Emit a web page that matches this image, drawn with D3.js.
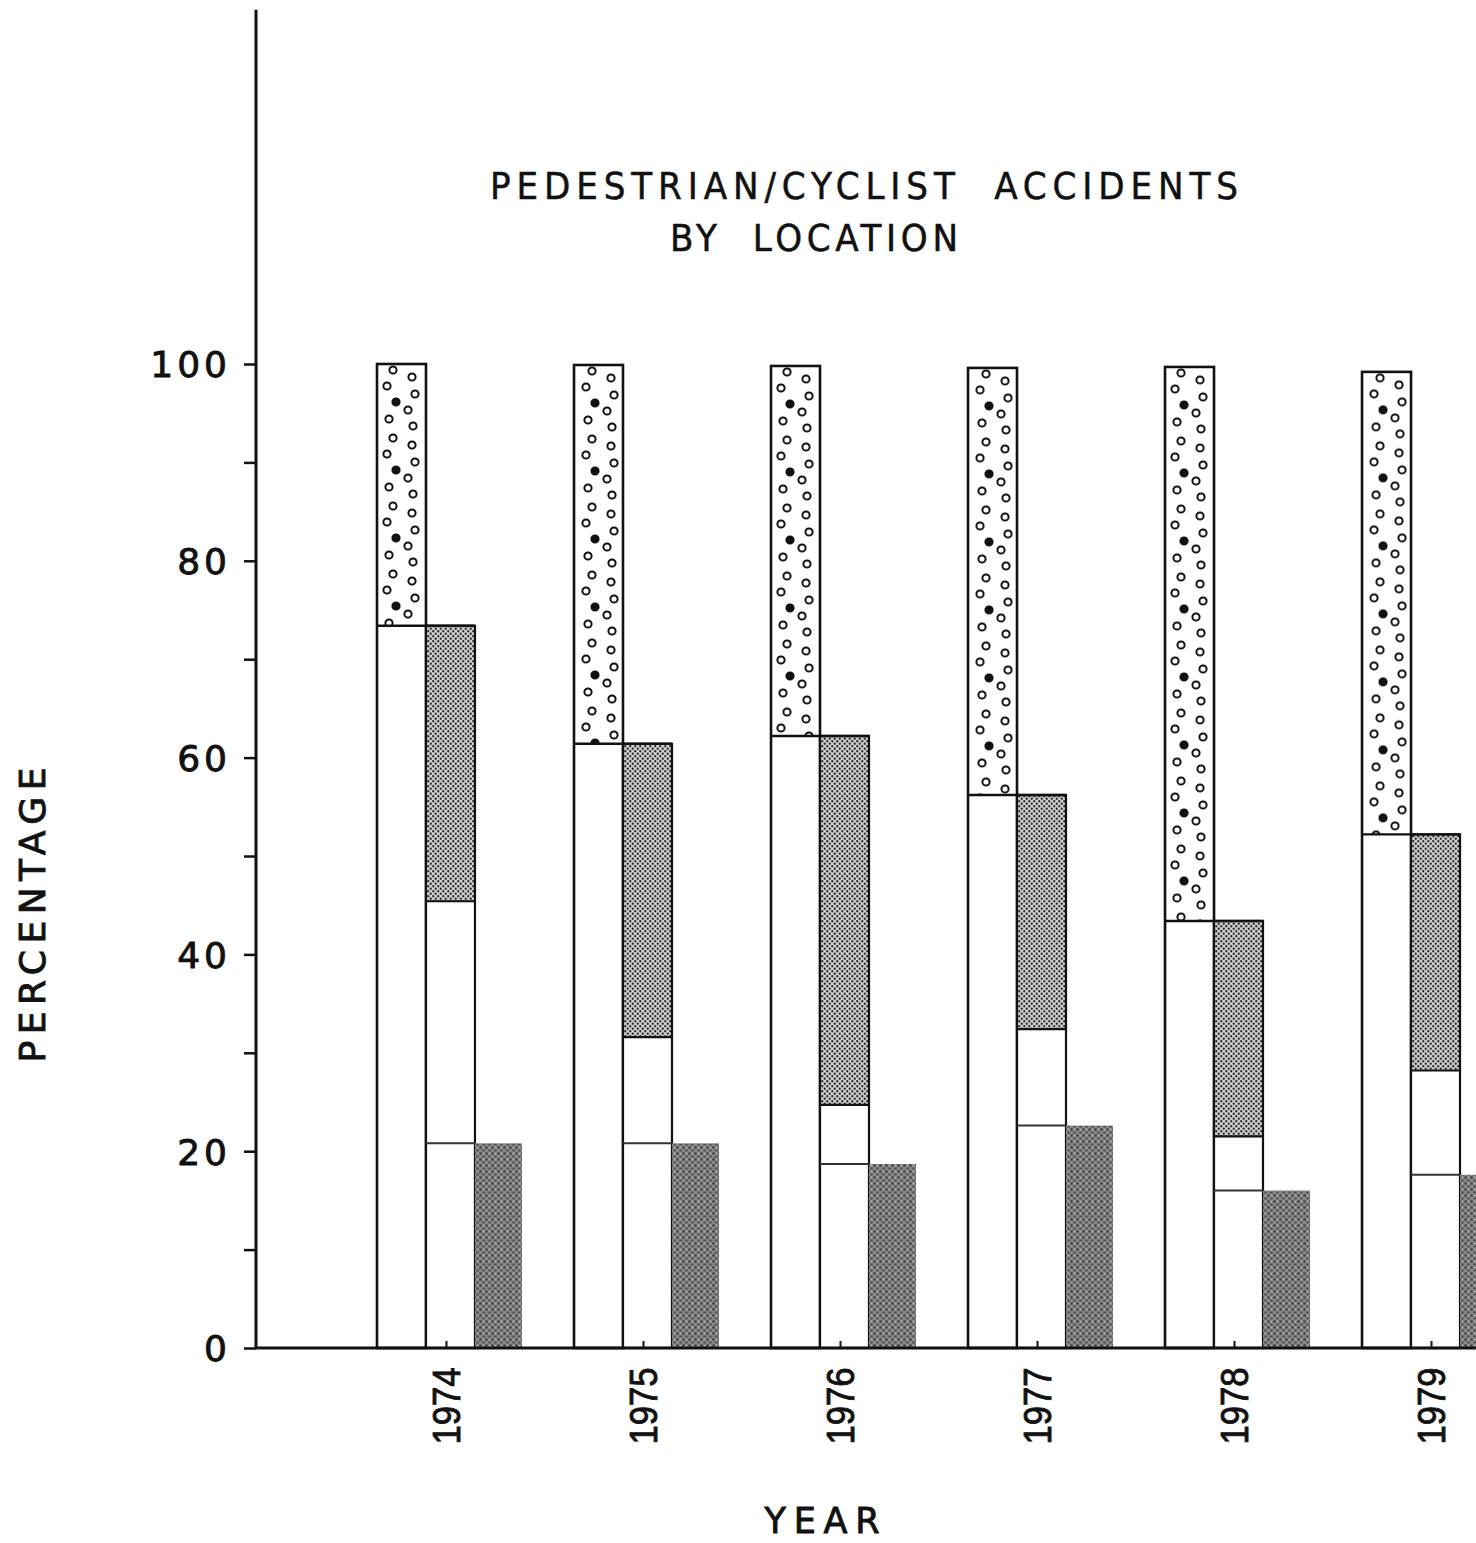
<!DOCTYPE html>
<html><head><meta charset="utf-8">
<title>Pedestrian/Cyclist Accidents by Location</title>
<script src="https://cdn.jsdelivr.net/npm/d3@7"></script>
<style>
  html,body{margin:0;background:#fff}
  svg{display:block}
  text{fill:#111}
  .thick{stroke:#111;stroke-width:0.9px}
</style></head><body>
<svg id="chart" width="1476" height="1543"></svg>
<script>
// values (percent)
const years   = ['1974','1975','1976','1977','1978','1979'];
const barTop  = [100, 99.9, 99.8, 99.6, 99.7, 99.2];
const whiteA  = [73.4, 61.4, 62.2, 56.2, 43.4, 52.2];   // first bar, plain part
const whiteB  = [45.4, 31.6, 24.7, 32.4, 21.5, 28.2];   // second bar, plain part
const thirdC  = [20.8, 20.8, 18.7, 22.6, 16.0, 17.6];   // third bar
const yTicks  = [0,10,20,30,40,50,60,70,80,90,100];
const yLabels = [0,20,40,60,80,100];
const axisTop = 136;

const rows = years.map((yr,i)=>({year:yr, i, top:barTop[i], a:whiteA[i], b:whiteB[i], c:thirdC[i]}));

const svg = d3.select('#chart');
const ink = '#111';

const y  = d3.scaleLinear().domain([0,100]).range([1348,364]);
const x0 = d3.scaleBand().domain(years).range([377,1509]).paddingInner(0.254);
const xs = d3.scaleBand().domain(['a','b','c']).range([0,x0.bandwidth()]);
const bw = xs.bandwidth();
const axisX = 256;

/* patterns (user space of each year group) */
const defs = svg.append('defs');
const dotPts = [[16,6,0],[35,13,0],[10,22,0],[38,30,0],[19,38,1],[31,46,0],[12,55,0],[36,62,0]];
rows.forEach(d=>{
  const p = defs.append('pattern').attr('id','dots-'+d.i)
    .attr('patternUnits','userSpaceOnUse')
    .attr('x',xs('a')).attr('y',y(d.top))
    .attr('width',bw).attr('height',68);
  p.append('rect').attr('width',bw).attr('height',68).attr('fill','#fff');
  dotPts.forEach(([cx,cy,f])=>p.append('circle').attr('cx',cx+(d.i%2)*2).attr('cy',cy)
    .attr('r',3.6).attr('fill',f?ink:'none').attr('stroke',ink).attr('stroke-width',2));
});
const st = defs.append('pattern').attr('id','stipple').attr('patternUnits','userSpaceOnUse')
  .attr('width',5).attr('height',5);
st.append('rect').attr('width',5).attr('height',5).attr('fill','#cfcfcf');
st.append('circle').attr('cx',1.25).attr('cy',1.25).attr('r',1.15).attr('fill','#2a2a2a');
st.append('circle').attr('cx',3.75).attr('cy',3.75).attr('r',1.15).attr('fill','#2a2a2a');
const dk = defs.append('pattern').attr('id','dark').attr('patternUnits','userSpaceOnUse')
  .attr('width',6).attr('height',6);
dk.append('rect').attr('width',6).attr('height',6).attr('fill','#868686');
dk.append('circle').attr('cx',1.5).attr('cy',1.5).attr('r',1.3).attr('fill','#3e3e3e');
dk.append('circle').attr('cx',4.5).attr('cy',4.5).attr('r',1.2).attr('fill','#505050');
dk.append('circle').attr('cx',4.5).attr('cy',1.5).attr('r',0.8).attr('fill','#bdbdbd');

/* bars */
const g = svg.append('g').selectAll('g').data(rows).join('g')
  .attr('transform',d=>`translate(${x0(d.year)},0)`);

// first bar
g.append('rect').attr('x',xs('a')).attr('y',d=>y(d.a)).attr('width',bw)
  .attr('height',d=>y(0)-y(d.a)).attr('fill','#fff');
g.append('rect').attr('x',xs('a')).attr('y',d=>y(d.top)).attr('width',bw)
  .attr('height',d=>y(d.a)-y(d.top)).attr('fill',d=>`url(#dots-${d.i})`);
g.append('rect').attr('x',xs('a')).attr('y',d=>y(d.top)).attr('width',bw)
  .attr('height',d=>y(0)-y(d.top)).attr('fill','none').attr('stroke',ink).attr('stroke-width',2.6);

// second bar
g.append('rect').attr('x',xs('b')).attr('y',d=>y(d.b)).attr('width',bw)
  .attr('height',d=>y(0)-y(d.b)).attr('fill','#fff');
g.append('rect').attr('x',xs('b')).attr('y',d=>y(d.a)).attr('width',bw)
  .attr('height',d=>y(d.b)-y(d.a)).attr('fill','url(#stipple)');
g.append('rect').attr('x',xs('b')).attr('y',d=>y(d.a)).attr('width',bw)
  .attr('height',d=>y(0)-y(d.a)).attr('fill','none').attr('stroke',ink).attr('stroke-width',2.2);
g.append('line').attr('x1',xs('a')).attr('x2',xs('b')+bw).attr('y1',d=>y(d.a)).attr('y2',d=>y(d.a))
  .attr('stroke',ink).attr('stroke-width',2.4);
g.append('line').attr('x1',xs('b')).attr('x2',xs('b')+bw).attr('y1',d=>y(d.b)).attr('y2',d=>y(d.b))
  .attr('stroke',ink).attr('stroke-width',2.2);
g.append('line').attr('x1',xs('b')).attr('x2',xs('b')+bw).attr('y1',d=>y(d.c)).attr('y2',d=>y(d.c))
  .attr('stroke','#333').attr('stroke-width',2);

// third bar
g.append('rect').attr('x',xs('c')).attr('y',d=>y(d.c)).attr('width',bw-2)
  .attr('height',d=>y(0)-y(d.c)).attr('fill','url(#dark)');

/* axes */
const ay = svg.append('g').attr('transform',`translate(${axisX},0)`)
  .call(d3.axisLeft(y).tickValues(yTicks).tickSize(12).tickSizeOuter(0)
    .tickFormat(d=>yLabels.includes(d)?d:''));
ay.select('.domain').remove();
ay.selectAll('.tick line').attr('stroke',ink).attr('stroke-width',2.5);
ay.selectAll('.tick text').attr('x',-25).attr('dy','0.36em').attr('class','thick')
  .attr('font-family','DejaVu Sans, sans-serif').attr('font-size',36)
  .attr('letter-spacing',4).attr('fill',ink);
ay.append('line').attr('x1',0).attr('x2',0).attr('y1',y(0)+1).attr('y2',y(axisTop))
  .attr('stroke',ink).attr('stroke-width',3);

svg.append('line').attr('x1',axisX).attr('x2',1476).attr('y1',y(0)).attr('y2',y(0))
  .attr('stroke',ink).attr('stroke-width',2.8);

// year labels
const lblX = d=>x0(d.year)+xs('b')+bw/2-4;
svg.append('g').selectAll('line').data(rows).join('line')
  .attr('x1',lblX).attr('x2',lblX).attr('y1',y(0)).attr('y2',y(0)-7)
  .attr('stroke',ink).attr('stroke-width',2);
svg.append('g').selectAll('text').data(rows).join('text')
  .attr('class','thick')
  .attr('transform',d=>`translate(${lblX(d)},1406) rotate(-90)`)
  .attr('text-anchor','middle').attr('dy','0.36em')
  .attr('font-family','Liberation Sans, Arial, sans-serif').attr('font-size',38)
  .attr('textLength',77).attr('lengthAdjust','spacingAndGlyphs')
  .text(d=>d.year);

/* titles */
const tFont = 'Liberation Sans Narrow, DejaVu Sans Condensed, Liberation Sans, sans-serif';
svg.append('text').attr('x',490).attr('y',199).attr('font-family',tFont).attr('font-size',38)
  .attr('stroke',ink).attr('stroke-width',0.5)
  .attr('textLength',748).attr('lengthAdjust','spacing')
  .attr('xml:space','preserve').text('PEDESTRIAN/CYCLIST  ACCIDENTS');
svg.append('text').attr('x',670).attr('y',251).attr('font-family',tFont).attr('font-size',38)
  .attr('stroke',ink).attr('stroke-width',0.5)
  .attr('textLength',288).attr('lengthAdjust','spacing')
  .attr('xml:space','preserve').text('BY  LOCATION');

svg.append('text').attr('class','thick').attr('transform','translate(45,915) rotate(-90)')
  .attr('text-anchor','middle').attr('font-family','DejaVu Sans, sans-serif').attr('font-size',36)
  .attr('textLength',295).attr('lengthAdjust','spacing').text('PERCENTAGE');

svg.append('text').attr('class','thick').attr('x',822).attr('y',1533).attr('text-anchor','middle')
  .attr('font-family','DejaVu Sans, sans-serif').attr('font-size',35)
  .attr('textLength',115).attr('lengthAdjust','spacing').text('YEAR');
</script>
</body></html>
